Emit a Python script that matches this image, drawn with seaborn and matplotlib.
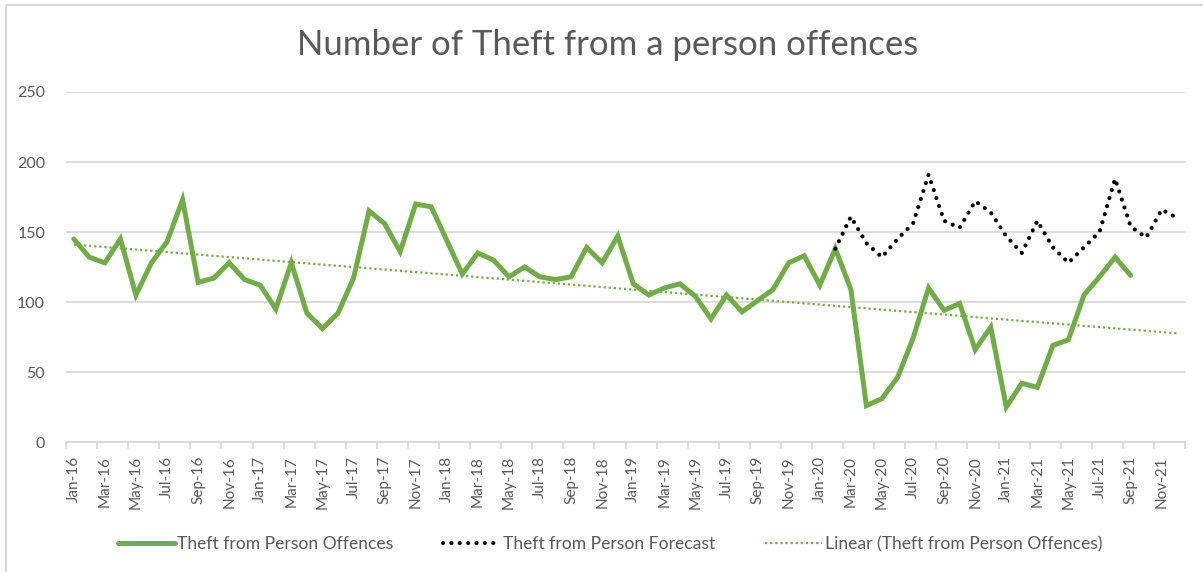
import numpy as np
import pandas as pd
import seaborn as sns
import matplotlib
matplotlib.use("Agg")
import matplotlib.pyplot as plt
from matplotlib.patches import Rectangle
from matplotlib.lines import Line2D

# ---------------- data ----------------
months = ["Jan", "Feb", "Mar", "Apr", "May", "Jun", "Jul", "Aug", "Sep", "Oct", "Nov", "Dec"]
years = ["16", "17", "18", "19", "20", "21"]
categories = [f"{m}-{y}" for y in years for m in months]  # Jan-16 .. Dec-21

offences = [145, 132, 128, 145, 105, 128, 143, 173, 114, 117, 128, 116,
            112, 95, 128, 92, 81, 92, 117, 165, 156, 136, 170, 168,
            144, 120, 135, 130, 118, 125, 118, 116, 118, 139, 128, 147,
            113, 105, 110, 113, 104, 88, 105, 93, 101, 109, 128, 133,
            112, 138, 109, 26, 31, 46, 74, 110, 94, 99, 66, 82,
            25, 42, 39, 69, 73, 105, 118, 132, 119]  # Jan-16 .. Sep-21

forecast_start = "Feb-20"
forecast = [138, 161, 142, 132, 145, 156, 191, 158, 153, 172, 164,
            147, 135, 158, 139, 128, 139, 150, 188, 154, 146, 166, 160]  # Feb-20 .. Dec-21

yticks = [0, 50, 100, 150, 200, 250]

title = "Number of Theft from a person offences"
lbl_actual = "Theft from Person Offences"
lbl_fc = "Theft from Person Forecast"
lbl_trend = "Linear (Theft from Person Offences)"

# ---------------- frames ----------------
n = len(categories)
df_act = pd.DataFrame({"idx": np.arange(len(offences)), "value": offences})
fs = categories.index(forecast_start)
df_fc = pd.DataFrame({"idx": np.arange(fs, fs + len(forecast)), "value": forecast})
coef = np.polyfit(df_act["idx"], df_act["value"], 1)
trend_x = np.arange(n)
df_tr = pd.DataFrame({"idx": trend_x, "value": np.polyval(coef, trend_x)})

# ---------------- style ----------------
sns.set_theme(style="white")
FONT = ["Lato", "DejaVu Sans"]
plt.rcParams["font.family"] = FONT
grey_txt = "#595959"
grid_c = "#d9d9d9"
green = "#70AD47"

fig = plt.figure(figsize=(12.03, 5.72), dpi=100)
ax = fig.add_axes([66 / 1203, 1 - 442 / 572, (1185 - 66) / 1203, (442 - 92) / 572])

sns.lineplot(data=df_act, x="idx", y="value", ax=ax, color=green, lw=3.6,
             solid_joinstyle="miter", label=lbl_actual, legend=False)
sns.lineplot(data=df_fc, x="idx", y="value", ax=ax, color="black", lw=3.0,
             linestyle=(0, (0.01, 2.0)), dash_capstyle="round", label=lbl_fc, legend=False)
sns.lineplot(data=df_tr, x="idx", y="value", ax=ax, color=green, lw=1.6,
             linestyle=(0, (1, 1.3)), label=lbl_trend, legend=False)

ax.set_xlim(-0.5, n - 0.5)
ax.set_ylim(0, 250)
ax.set_yticks(yticks)
ax.set_yticklabels([str(v) for v in yticks])
ax.yaxis.grid(True, color=grid_c, lw=1.3)
ax.set_axisbelow(True)
for s in ["left", "right", "top"]:
    ax.spines[s].set_visible(False)
ax.spines["bottom"].set_color(grid_c)
ax.spines["bottom"].set_linewidth(1.3)
ax.set_xlabel("")
ax.set_ylabel("")

# major ticks at boundaries (marks only), minor ticks at category centers (labels)
ax.set_xticks(np.arange(-0.5, n, 2))
ax.set_xticklabels([])
ax.set_xticks(np.arange(0, n, 2), minor=True)
ax.set_xticklabels(categories[::2], minor=True, rotation=90, fontsize=11, color=grey_txt)
ax.tick_params(axis="x", which="major", length=5, width=1.2, color=grid_c, direction="out", bottom=True)
ax.tick_params(axis="x", which="minor", length=0, pad=10, bottom=True)
ax.tick_params(axis="y", length=0, labelsize=11.5, labelcolor=grey_txt, pad=15)
for t in ax.get_yticklabels():
    t.set_fontfamily(FONT)

fig.text(0.505, 1 - 45 / 572, title, ha="center", va="center", fontsize=25, color=grey_txt)

handles = [Line2D([], [], color=green, lw=3.6),
           Line2D([], [], color="black", lw=3.0, linestyle=(0, (0.01, 2.0)), dash_capstyle="round"),
           Line2D([], [], color=green, lw=1.6, linestyle=(0, (1, 1.3)))]
leg = fig.legend(handles, [lbl_actual, lbl_fc, lbl_trend], loc="center",
                 bbox_to_anchor=(0.507, 1 - 544 / 572), ncol=3, frameon=False,
                 fontsize=12.6, handlelength=3.25, handletextpad=0.15, columnspacing=2.85)
for t in leg.get_texts():
    t.set_color(grey_txt)

# chart-area border (cropped on right & bottom)
fig.patches.append(Rectangle((6 / 1203, -0.05), 1.1, 1 - 5 / 572 + 0.05, transform=fig.transFigure,
                             fill=False, edgecolor=grid_c, lw=1.5))

fig.savefig("out.png", dpi=100)
